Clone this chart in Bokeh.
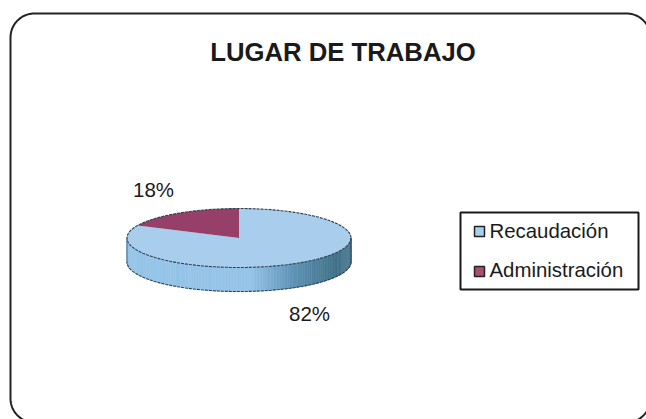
import numpy as np
from bokeh.plotting import figure
from bokeh.models import Range1d
from bokeh.core.properties import value
from bokeh.embed import file_html
from bokeh.resources import INLINE

title_text = "LUGAR DE TRABAJO"
categories = ["Recaudación", "Administración"]
shares = [82, 18]
labels = ["82%", "18%"]
top_colors = ["#a9cdec", "#963f68"]
swatch_colors = ["#a6d0ee", "#a9506f"]

W, H = 646, 419
FONT = value("Liberation Sans")
p = figure(width=W, height=H, output_backend="svg", toolbar_location=None,
           x_range=Range1d(0, W), y_range=Range1d(H, 0), min_border=0,
           background_fill_color="white", border_fill_color="white")
p.axis.visible = False
p.grid.visible = False
p.outline_line_color = None

# rounded frame (right and bottom sides fall just outside the picture)
L, T, Rt, B, r = 10, 13, 650, 422, 24
a = np.linspace(0, np.pi / 2, 24)
fx = np.concatenate([L + r - r * np.cos(a), Rt - r + r * np.sin(a), Rt - r + r * np.cos(a), L + r - r * np.sin(a), [L]])
fy = np.concatenate([T + r - r * np.sin(a), T + r - r * np.cos(a), B - r + r * np.sin(a), B - r + r * np.cos(a), [T + r]])
p.line(fx, fy, line_color="#222222", line_width=2)

# pie geometry
cx, cy, rx, ry, depth = 238.5, 237.5, 112, 29.5, 24

# side wall, shaded left to right
stops_x = [127, 250, 290, 337, 350]
stops_r = [150, 150, 98, 62, 82]
stops_g = [196, 196, 150, 112, 128]
stops_b = [232, 232, 185, 135, 152]
t = np.linspace(0, np.pi, 121)
xs, ys, cols = [], [], []
for t0, t1 in zip(t[:-1], t[1:]):
    x0, x1 = cx + rx * np.cos(t0), cx + rx * np.cos(t1)
    y0, y1 = cy + ry * np.sin(t0), cy + ry * np.sin(t1)
    xs.append([x0, x1, x1, x0])
    ys.append([y0, y1, y1 + depth, y0 + depth])
    m = (x0 + x1) / 2
    cols.append("#%02x%02x%02x" % (int(np.interp(m, stops_x, stops_r)),
                                   int(np.interp(m, stops_x, stops_g)),
                                   int(np.interp(m, stops_x, stops_b))))
p.patches(xs, ys, fill_color=cols, line_color=cols, line_width=0.6)

# top slices: clockwise from 12 o'clock
total = sum(shares)
start = 0.0
for share, col in zip(shares, top_colors):
    end = start + share / total * 2 * np.pi
    th = np.linspace(start, end, 120)
    sx = np.concatenate([[cx], cx + rx * np.sin(th), [cx]])
    sy = np.concatenate([[cy], cy - ry * np.cos(th), [cy]])
    p.patch(sx, sy, fill_color=col, line_color=None)
    start = end

# dashed dark outlines
th = np.linspace(0, 2 * np.pi, 240)
p.line(cx + rx * np.cos(th), cy + ry * np.sin(th), line_color="#2c3e50", line_width=1.1, line_dash="3 1")
p.line(cx + rx * np.cos(t), cy + depth + ry * np.sin(t), line_color="#2c3e50", line_width=1.1, line_dash="3 1")
p.line([cx - rx, cx - rx], [cy, cy + depth], line_color="#4a6a85", line_width=1)
p.line([cx + rx, cx + rx], [cy, cy + depth], line_color="#2c3e50", line_width=1)

# texts (the svg backend places the alphabetic baseline about 0.4em low)
EM = 0.4
p.text([342.5], [62 - EM * 25.7], text=[title_text], text_font=FONT, text_font_style="bold", text_font_size="25.7px",
       text_align="center", text_baseline="alphabetic", text_color="#1a1a1a")
p.text([309, 153], [321.5 - EM * 20.5, 197.5 - EM * 20.5], text=labels, text_font=FONT, text_font_size="20.5px",
       text_align="center", text_baseline="alphabetic", text_color="#1a1a1a")

# legend
p.quad(left=[460], right=[638], top=[212], bottom=[289], fill_color="white", line_color="#1a1a1a", line_width=2)
sw_y = [231, 271]
base_y = [239 - EM * 20.4, 278 - EM * 20.4]
p.rect([479, 479], sw_y, width=10, height=10, fill_color=swatch_colors, line_color="#222222", line_width=1.5)
p.text([489, 489], base_y, text=categories, text_font=FONT, text_font_size="20.4px",
       text_align="left", text_baseline="alphabetic", text_color="#1a1a1a")

open("out.html", "w").write(file_html(p, INLINE))
